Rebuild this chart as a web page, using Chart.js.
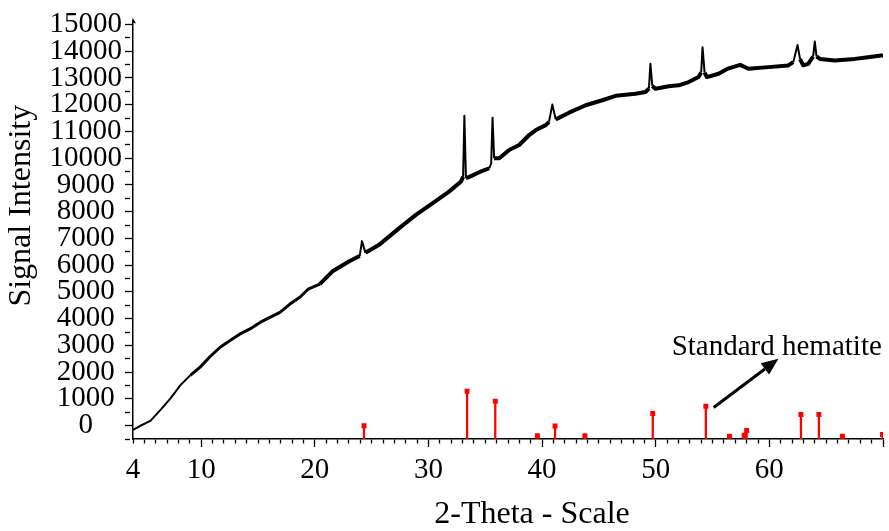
<!DOCTYPE html>
<html><head><meta charset="utf-8">
<script src="https://cdn.jsdelivr.net/npm/chart.js@4.4.1/dist/chart.umd.min.js"></script>
<style>html,body{margin:0;padding:0;background:#fff}</style>
</head><body>
<canvas id="c" width="889" height="531"></canvas>
<script>
// measured XRD scan (2-theta, counts)
const scanX = [4.0, 4.65, 5.53, 6.4, 7.28, 8.16, 9.04, 9.91, 10.79, 11.67, 12.54, 13.42, 14.3, 15.18, 16.05, 16.93, 17.81, 18.68, 19.41, 20.44, 21.6, 23.07, 23.95, 24.15, 24.45, 25.7, 27.46, 28.92, 30.38, 31.84, 32.87, 33.05, 33.16, 33.3, 33.6, 34.47, 35.35, 35.52, 35.64, 35.78, 36.23, 37.1, 37.98, 38.86, 39.45, 40.32, 40.61, 40.9, 41.2, 42.37, 43.83, 45.3, 46.47, 48.22, 49.1, 49.4, 49.53, 49.7, 49.97, 51.14, 52.02, 52.9, 53.77, 54.0, 54.12, 54.3, 54.5, 55.53, 56.36, 57.43, 58.16, 59.91, 61.67, 62.1, 62.48, 62.7, 62.98, 63.42, 63.85, 64.0, 64.15, 64.45, 65.76, 67.52, 68.69, 69.85, 70.0];
const scanY = [-160, -5, 180, 578, 1013, 1507, 1879, 2188, 2585, 2931, 3180, 3429, 3615, 3860, 4046, 4232, 4545, 4800, 5100, 5288, 5783, 6154, 6340, 6898, 6463, 6775, 7392, 7890, 8322, 8757, 9128, 9300, 11582, 9250, 9300, 9474, 9623, 9800, 11507, 10000, 9994, 10306, 10492, 10864, 11050, 11236, 11359, 12002, 11450, 11700, 11979, 12165, 12330, 12411, 12474, 12600, 13526, 12700, 12597, 12690, 12722, 12846, 13032, 13200, 14147, 13200, 13032, 13156, 13350, 13489, 13340, 13403, 13465, 13589, 14233, 13700, 13465, 13526, 13800, 14358, 13800, 13711, 13652, 13711, 13775, 13838, 13840];
// standard hematite reference sticks (2-theta, top of stick)
const stickX = [24.33, 33.4, 35.88, 39.59, 41.14, 43.77, 49.74, 54.41, 56.49, 57.78, 58.0, 62.78, 64.36, 66.43, 69.95];
const stickTop = [-6, 1284, 913, -380, -17, -380, 455, 727, -400, -360, -180, 418, 418, -400, -330];
// tick labels
const xTickLabels = [4, 10, 20, 30, 40, 50, 60];
const yTickLabels = [0, 1000, 2000, 3000, 4000, 5000, 6000, 7000, 8000, 9000, 10000, 11000, 12000, 13000, 14000, 15000];
const yMin = -500, yMax = 15150, yMinorStep = 500;
// annotation (in data units)
const noteText = 'Standard hematite';
const notePos = [51.4, 2625];
const arrowFrom = [55.1, 680];
const arrowTo = [60.8, 2500];

const SERIF = "'Liberation Serif', 'Times New Roman', serif";

const annot = {
  id: 'annot',
  afterDraw(chart) {
    const {ctx, scales: {x, y}, chartArea} = chart;
    ctx.save();
    ctx.fillStyle = '#000';
    ctx.font = '29px ' + SERIF;
    ctx.textBaseline = 'alphabetic';
    ctx.textAlign = 'left';
    ctx.fillText(noteText, x.getPixelForValue(notePos[0]), y.getPixelForValue(notePos[1]));
    const x1 = x.getPixelForValue(arrowFrom[0]), y1 = y.getPixelForValue(arrowFrom[1]);
    const x2 = x.getPixelForValue(arrowTo[0]), y2 = y.getPixelForValue(arrowTo[1]);
    const ang = Math.atan2(y2 - y1, x2 - x1);
    const hl = 17, hw = 7;
    const bx = x2 - hl * Math.cos(ang), by = y2 - hl * Math.sin(ang);
    ctx.strokeStyle = '#000';
    ctx.lineWidth = 3;
    ctx.beginPath(); ctx.moveTo(x1, y1); ctx.lineTo(bx, by); ctx.stroke();
    ctx.beginPath();
    ctx.moveTo(x2, y2);
    ctx.lineTo(bx + hw * Math.sin(ang), by - hw * Math.cos(ang));
    ctx.lineTo(bx - hw * Math.sin(ang), by + hw * Math.cos(ang));
    ctx.closePath(); ctx.fill();
    const ax = chartArea.left, ay = chartArea.top;
    ctx.beginPath();
    ctx.moveTo(ax - 0.5, ay - 3);
    ctx.lineTo(ax + 3, ay + 3);
    ctx.lineTo(ax - 0.5, ay + 2);
    ctx.closePath(); ctx.fill();
    ctx.restore();
  }
};

new Chart(document.getElementById('c'), {
  type: 'line',
  data: {
    datasets: [
      {
        type: 'line',
        data: scanX.map((v, i) => ({x: v, y: scanY[i]})),
        borderColor: '#000',
        borderWidth: 3,
        borderJoinStyle: 'round',
        pointRadius: 0,
        tension: 0,
        segment: {
          borderWidth: c => {
            const slope = Math.abs((c.p1.parsed.y - c.p0.parsed.y) / (c.p1.parsed.x - c.p0.parsed.x));
            if (slope > 1000) return 2;
            if (c.p0.parsed.x < 9) return 2;
            if (c.p0.parsed.x < 20) return 3;
            return 4;
          }
        },
        order: 1
      },
      {
        type: 'bar',
        data: stickX.map((v, i) => ({x: v, y: [yMin, stickTop[i]]})),
        backgroundColor: '#ff0000',
        borderWidth: 0,
        barThickness: 1.6,
        grouped: false,
        order: 2
      },
      {
        type: 'scatter',
        data: stickX.map((v, i) => ({x: v, y: stickTop[i]})),
        pointStyle: 'rect',
        pointRadius: 3.5,
        pointBackgroundColor: '#ff0000',
        pointBorderWidth: 0,
        showLine: false,
        order: 0
      }
    ]
  },
  options: {
    responsive: false,
    animation: false,
    layout: { padding: { top: 18, right: 4, left: 6, bottom: 0 } },
    plugins: { legend: { display: false }, tooltip: { enabled: false } },
    scales: {
      x: {
        type: 'linear', min: 4, max: 70, offset: false,
        border: { color: '#000', width: 1.5 },
        grid: {
          drawOnChartArea: false, drawTicks: true, tickLength: 8, offset: false,
          tickColor: '#000', tickWidth: 1.3,
          tickBorderDash: c => (c.tick && (c.tick.value % 10 === 0) ? [] : [4, 30])
        },
        ticks: {
          stepSize: 1, autoSkip: false, maxRotation: 0, padding: 6, color: '#000',
          font: { family: SERIF, size: 29 },
          callback: v => (xTickLabels.includes(v) ? String(v) : '')
        },
        title: { display: true, text: '\u00a0\u00a0\u00a0\u00a0\u00a0\u00a02-Theta - Scale', color: '#000', font: { family: SERIF, size: 32, lineHeight: 1 }, padding: { top: 0, bottom: 0 } },
        afterFit: s => { s.height = 92; }
      },
      y: {
        type: 'linear', min: yMin, max: yMax,
        border: { color: '#000', width: 1.5 },
        grid: {
          drawOnChartArea: false, drawTicks: true, tickLength: 8,
          tickColor: '#000', tickWidth: 1.3,
          tickBorderDash: c => (c.tick && (c.tick.value % 1000 === 0) && c.tick.value >= 0 ? [] : [5, 30])
        },
        afterBuildTicks: s => {
          const t = [];
          for (let v = yMin; v <= yMax; v += yMinorStep) t.push({ value: v });
          s.ticks = t;
        },
        ticks: {
          autoSkip: false, padding: 3, color: '#000', crossAlign: 'center',
          font: { family: SERIF, size: 29 },
          callback: v => (yTickLabels.includes(v) ? String(v) : '')
        },
        title: { display: true, text: '\u00a0\u00a0\u00a0\u00a0\u00a0\u00a0Signal Intensity', color: '#000', font: { family: SERIF, size: 32, lineHeight: 1 }, padding: { top: 0, bottom: 4 } },
        afterFit: s => { s.width = 127; }
      }
    }
  },
  plugins: [annot]
});
</script>
</body></html>
